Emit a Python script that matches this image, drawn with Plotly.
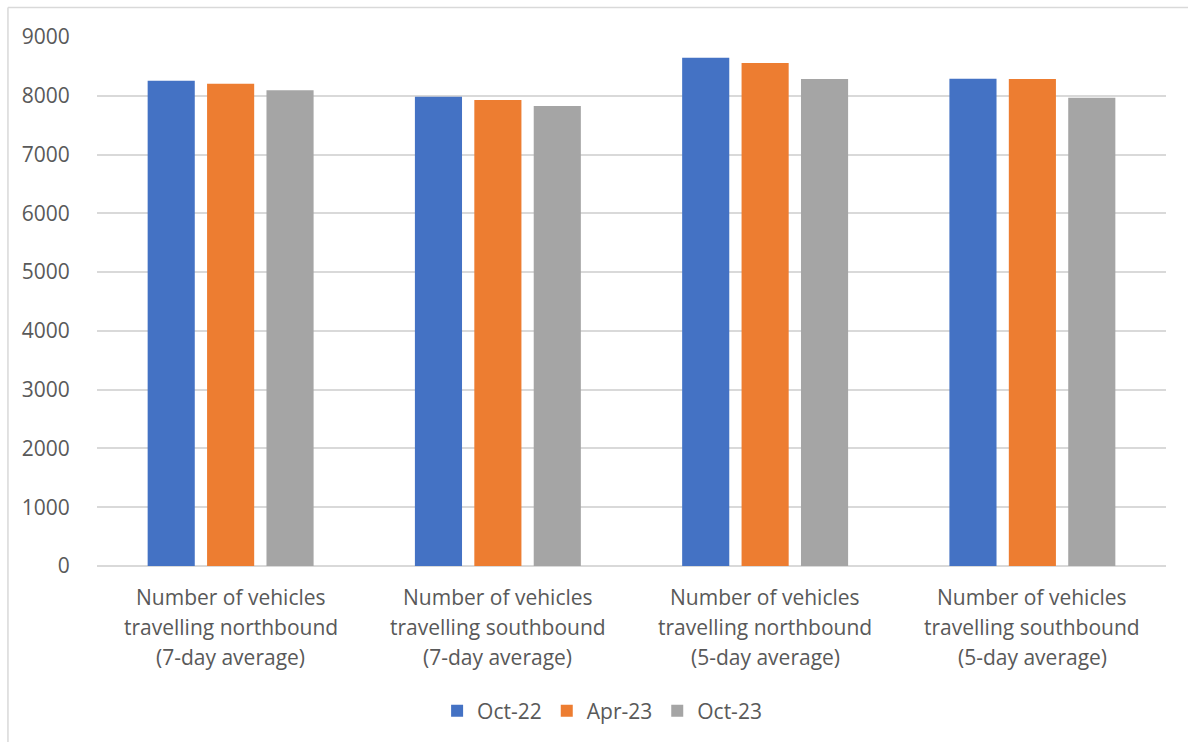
import plotly.graph_objects as go

# Average daily vehicle counts by survey period
category_lines = [
    ["Number of vehicles", "travelling northbound", "(7-day average)"],
    ["Number of vehicles", "travelling southbound", "(7-day average)"],
    ["Number of vehicles", "travelling northbound", "(5-day average)"],
    ["Number of vehicles", "travelling southbound", "(5-day average)"],
]
categories = [" ".join(lines) for lines in category_lines]

periods = ["Oct-22", "Apr-23", "Oct-23"]
oct_22 = [8257, 7985, 8648, 8291]
apr_23 = [8206, 7929, 8558, 8286]
oct_23 = [8093, 7827, 8286, 7967]
series_values = [oct_22, apr_23, oct_23]
colors = ["#4472C4", "#ED7D31", "#A5A5A5"]

y_ticks = list(range(0, 9001, 1000))

FONT = "Open Sans"
FONT_SIZE = 21
TEXT_COLOR = "#595959"
GRID_COLOR = "#D9D9D9"

fig = go.Figure()
for name, values, color in zip(periods, series_values, colors):
    fig.add_trace(go.Bar(
        x=categories,
        y=values,
        name=name,
        marker=dict(color=color, line=dict(width=0)),
    ))

# Multi-line category labels under each group
line_offsets = [-31, -61, -91]
for cat, lines in zip(categories, category_lines):
    for text, dy in zip(lines, line_offsets):
        fig.add_annotation(
            x=cat, y=0, xref="x", yref="y",
            text=text, showarrow=False,
            yshift=dy, yanchor="middle", xanchor="center",
            font=dict(family=FONT, size=FONT_SIZE, color=TEXT_COLOR),
        )

# Chart frame (left and top edges)
fig.add_shape(type="line", xref="paper", yref="paper",
              x0=-0.0833, x1=-0.0833, y0=-0.4, y1=1.0557,
              line=dict(color=GRID_COLOR, width=1.5))
fig.add_shape(type="line", xref="paper", yref="paper",
              x0=-0.0833, x1=1.05, y0=1.0557, y1=1.0557,
              line=dict(color=GRID_COLOR, width=1.5))

fig.update_layout(
    width=1188,
    height=742,
    margin=dict(l=97, r=22, t=37, b=175),
    paper_bgcolor="white",
    plot_bgcolor="white",
    barmode="group",
    bargap=0.333,
    bargroupgap=0.207,
    font=dict(family=FONT, size=FONT_SIZE, color=TEXT_COLOR),
    showlegend=True,
    legend=dict(
        orientation="h",
        x=0.4725, xanchor="center",
        y=-0.272, yanchor="middle",
        font=dict(family=FONT, size=FONT_SIZE, color=TEXT_COLOR),
        itemclick=False,
        traceorder="normal",
        itemwidth=30,
    ),
    xaxis=dict(
        showticklabels=False,
        showgrid=False,
        showline=False,
        ticks="",
    ),
    yaxis=dict(
        range=[0, 9000],
        tickvals=y_ticks,
        ticktext=[str(v) for v in y_ticks],
        showgrid=True,
        gridcolor=GRID_COLOR,
        gridwidth=1.5,
        zeroline=True,
        zerolinecolor=GRID_COLOR,
        zerolinewidth=1.5,
        showline=False,
        ticks="outside",
        ticklen=22,
        tickcolor="rgba(0,0,0,0)",
        tickfont=dict(family=FONT, size=FONT_SIZE, color=TEXT_COLOR),
    ),
)

fig.write_html("out.html")
